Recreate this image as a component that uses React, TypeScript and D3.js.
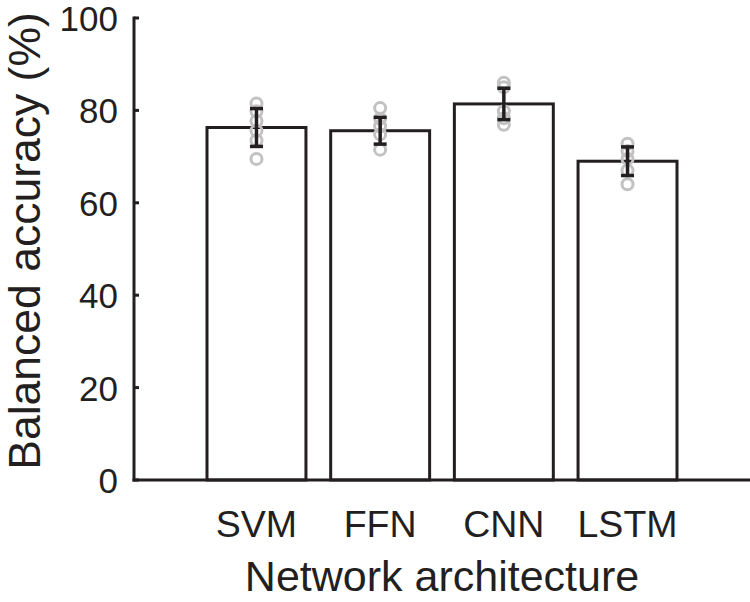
import React from "react";
import * as d3 from "d3";

const categories = ["SVM", "FFN", "CNN", "LSTM"];
const means = [76.3, 75.6, 81.4, 69.0];
const errs = [4.1, 2.9, 3.4, 3.1];
const pointsSVM = [81.5, 79.8, 77.7, 75.6, 73.5, 69.5];
const pointsFFN = [80.5, 78.2, 76.6, 74.8, 71.5];
const pointsCNN = [86.0, 85.0, 79.8, 78.3, 76.9];
const pointsLSTM = [72.8, 71.2, 69.5, 67.0, 64.0];
const points = [pointsSVM, pointsFFN, pointsCNN, pointsLSTM];
const yTicks = [0, 20, 40, 60, 80, 100];

const W = 750;
const H = 602;
const ink = "#231f20";
const font = "'Liberation Sans', Arial, Helvetica, sans-serif";

export default function App() {
  const axisX = 134;
  const x = d3.scaleBand<string>().domain(categories).range([207, 677]).paddingInner(0.2).paddingOuter(0);
  const y = d3.scaleLinear().domain([0, 100]).range([480, 18]);
  const bw = x.bandwidth();
  return (
    <svg width={W} height={H} style={{ position: "absolute", left: 0, top: 0, background: "#fff" }}>
      {categories.map((c, i) => (
        <rect key={c} x={x(c)} y={y(means[i])} width={bw} height={y(0) - y(means[i])}
          fill="#fff" stroke={ink} strokeWidth={3} />
      ))}
      {categories.map((c, i) => {
        const cx = (x(c) as number) + bw / 2;
        return (
          <g key={c + "p"}>
            {points[i].map((v, j) => (
              <circle key={j} cx={cx} cy={y(v)} r={5.5} fill="none" stroke="#c2c2c2" strokeWidth={3} />
            ))}
          </g>
        );
      })}
      {categories.map((c, i) => {
        const cx = (x(c) as number) + bw / 2;
        const t = y(means[i] + errs[i]);
        const b = y(means[i] - errs[i]);
        return (
          <g key={c + "e"} stroke={ink} strokeWidth={3.5}>
            <line x1={cx} x2={cx} y1={t} y2={b} />
            <line x1={cx - 6.5} x2={cx + 6.5} y1={t} y2={t} />
            <line x1={cx - 6.5} x2={cx + 6.5} y1={b} y2={b} />
          </g>
        );
      })}
      <line x1={axisX} x2={axisX} y1={y(100) - 1.5} y2={y(0) + 1.5} stroke={ink} strokeWidth={3} />
      <line x1={axisX - 1.5} x2={W} y1={y(0)} y2={y(0)} stroke={ink} strokeWidth={3} />
      {yTicks.map((t) => (
        <g key={t}>
          <line x1={axisX} x2={axisX + 5} y1={y(t)} y2={y(t)} stroke={ink} strokeWidth={3} />
          <text x={118} y={y(t)} dy="0.37em" textAnchor="end" fontFamily={font} fontSize={35} fill={ink}>{t}</text>
        </g>
      ))}
      {categories.map((c) => (
        <text key={c + "l"} x={(x(c) as number) + bw / 2} y={537} textAnchor="middle" fontFamily={font} fontSize={37.5} fill={ink}>{c}</text>
      ))}
      <text x={442} y={591} textAnchor="middle" fontFamily={font} fontSize={43} fill={ink}>Network architecture</text>
      <text transform={`translate(40,241) rotate(-90)`} textAnchor="middle" fontFamily={font} fontSize={44.5} fill={ink}>Balanced accuracy (%)</text>
    </svg>
  );
}
